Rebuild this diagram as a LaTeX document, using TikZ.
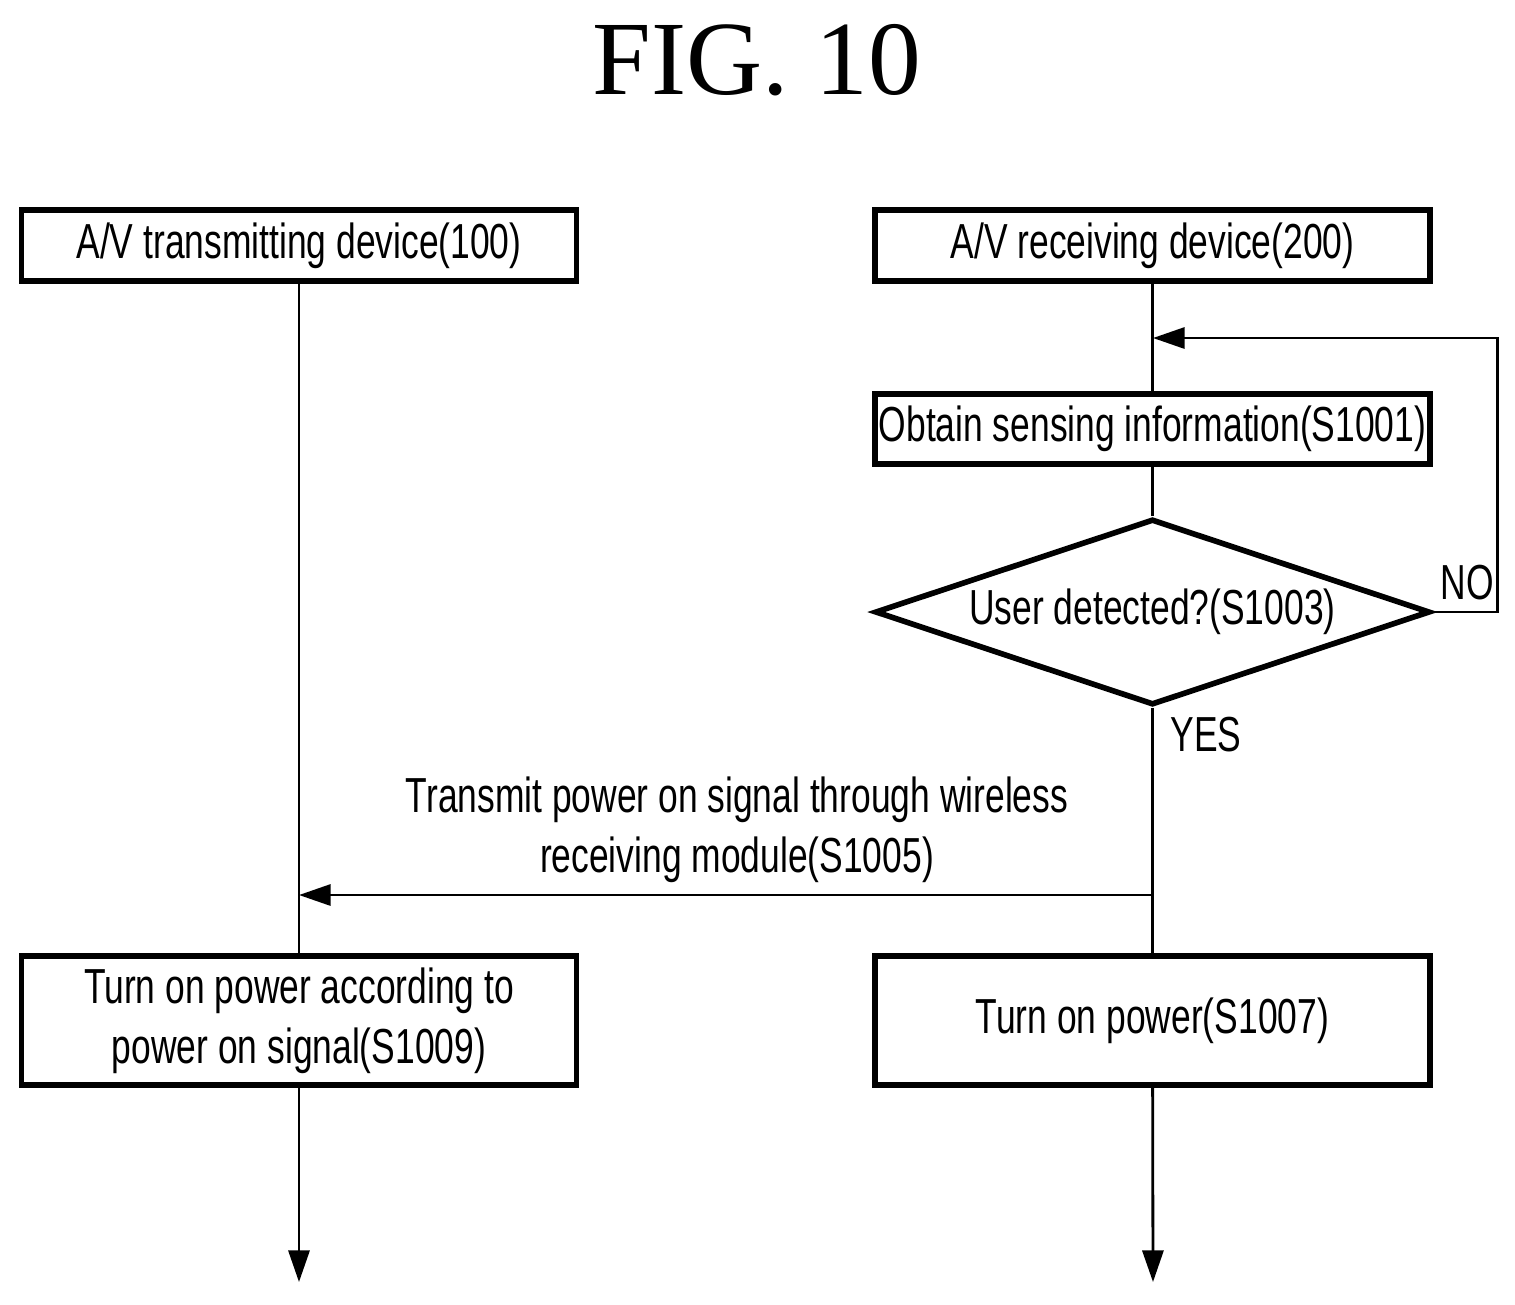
\documentclass[tikz,border=0pt]{standalone}
\usepackage{fontspec}
\setmainfont{Liberation Sans}[FakeStretch=0.72]
\newfontfamily\figfont{Liberation Serif}
\usetikzlibrary{shapes.geometric, arrows.meta}

\tikzset{
    stepbox/.style={draw, line width=1.6pt, minimum width=5.55cm, inner sep=0pt, font=\fontsize{14}{17}\selectfont, align=center},
    test/.style={draw, diamond, aspect=2.98, line width=1.6pt, minimum width=5.55cm, minimum height=1.86cm, inner sep=0pt, font=\fontsize{14}{17}\selectfont},
    flow/.style={line width=0.8pt, -{Triangle[length=9pt, width=6pt]}},
    note/.style={font=\fontsize{14}{17}\selectfont}
}

\begin{document}
\begin{tikzpicture}
        \useasboundingbox (0,0) rectangle (15.15,-13.04);

        % Title
            \node[font=\figfont\fontsize{30}{34}\selectfont] (title) at (7.57,-0.6) {FIG. 10};

        % Draw the device boxes
            \node[stepbox, minimum height=0.71cm] (tx) at (2.99,-2.455) {A/V transmitting device(100)};
            \node[stepbox, minimum height=0.71cm] (rx) at (11.525,-2.455) {A/V receiving device(200)};

        % Draw the steps of the receiving device
            \coordinate (loopin) at (11.53,-3.38);
            \node[stepbox, minimum height=0.70cm] (s1001) at (11.525,-4.29) {Obtain sensing information(S1001)};
            \node[test] (s1003) at (11.525,-6.12) {User detected?(S1003)};
            \coordinate (send) at (11.53,-8.95);
            \coordinate (recv) at (2.99,-8.95);
            \node[stepbox, minimum height=1.29cm] (s1009) at (2.99,-10.205) {Turn on power according to\\power on signal(S1009)};
            \node[stepbox, minimum height=1.29cm] (s1007) at (11.525,-10.205) {Turn on power(S1007)};
            \coordinate (txend) at (2.99,-12.82);
            \coordinate (rxend) at (11.53,-12.82);

        % Draw the lifelines
            \draw[line width=0.8pt] (tx) -- (s1009);
            \draw[line width=0.8pt] (rx) -- (s1001);
            \draw[line width=0.8pt] (s1001) -- (s1003);
            \draw[line width=0.8pt] (s1003) -- (s1007);
            \draw[flow] (s1009) -- (txend);
            \draw[flow] (s1007) -- (rxend);

        % Draw the loop and the signal
            \draw[flow] (s1003.east) -- ++(0.65,0) |- (loopin);
            \draw[flow] (send) -- (recv);

        % Labels
            \node[note, anchor=south west] (no) at (14.28,-6.12) {NO};
            \node[note, anchor=north west] (yes) at (11.58,-7.05) {YES};
            \node[note, align=center] (sig) at (7.37,-8.3) {Transmit power on signal through wireless\\receiving module(S1005)};
    \end{tikzpicture}
\end{document}
